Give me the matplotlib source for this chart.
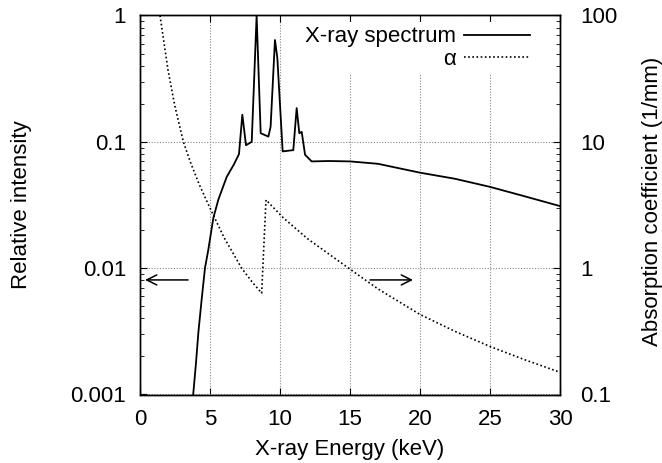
import numpy as np
import matplotlib
matplotlib.use("Agg")
import matplotlib.pyplot as plt

# X-ray spectrum (relative intensity, left axis)
spec_energy = [3.8, 4.0, 4.17, 4.4, 4.64, 4.88, 5.24, 5.6, 6.2, 6.7, 7.07, 7.31,
               7.57, 7.98, 8.33, 8.62, 9.17, 9.33, 9.64, 9.81, 10.19, 10.95,
               11.19, 11.38, 11.55, 11.79, 12.26, 13.5, 15.0, 17.0, 20.0, 22.5,
               25.0, 27.5, 30.0]
spec_intensity = [0.001, 0.00178, 0.0031, 0.0056, 0.01, 0.014, 0.025, 0.035,
                  0.053, 0.066, 0.080, 0.164, 0.094, 0.10, 1.0, 0.117, 0.110,
                  0.132, 0.64, 0.46, 0.084, 0.086, 0.185, 0.117, 0.12, 0.079,
                  0.070, 0.0705, 0.070, 0.067, 0.057, 0.051, 0.044, 0.037, 0.031]

# absorption coefficient (1/mm, right axis)
alpha_energy = [1.43, 2.0, 2.5, 3.1, 3.6, 4.24, 5.0, 6.0, 7.26, 8.0, 8.69, 9.0,
                10.24, 12.0, 14.9, 17.0, 20.0, 22.5, 25.0, 27.5, 30.0]
alpha_values = [100, 37, 19, 10, 6.9, 4.57, 2.99, 1.75, 1.0, 0.78, 0.634, 3.47,
                2.5, 1.7, 1.0, 0.685, 0.43, 0.316, 0.24, 0.188, 0.15]

x_ticks = [0, 5, 10, 15, 20, 25, 30]
left_ticks = [0.001, 0.01, 0.1, 1]
left_labels = ["0.001", "0.01", "0.1", "1"]
right_ticks = [0.1, 1, 10, 100]
right_labels = ["0.1", "1", "10", "100"]

# arrows pointing to each curve's axis: (tail x, head x), at y in left units
arrow_y = 0.00807
left_arrow = (3.43, 0.36)
right_arrow = (16.43, 19.5)

plt.rcParams["font.family"] = ["Liberation Sans", "DejaVu Sans"]
plt.rcParams["font.size"] = 16

fig = plt.figure(figsize=(6.62, 4.63), dpi=100)
ax = fig.add_axes([140 / 662, 1 - 394.5 / 463, 420 / 662, 379 / 463])
ax2 = ax.twinx()

ax.set_xlim(0, 30)
ax.set_yscale("log")
ax.set_ylim(0.001, 1)
ax2.set_yscale("log")
ax2.set_ylim(0.1, 100)

ax.set_xticks(x_ticks)
ax.set_yticks(left_ticks)
ax.set_yticklabels(left_labels)
ax2.set_yticks(right_ticks)
ax2.set_yticklabels(right_labels)

ax.grid(True, which="major", linestyle=(0, (1, 1.5)), color="#888888", linewidth=0.8)

ax.tick_params(axis="x", which="both", direction="in", top=True, length=5, pad=10.5)
ax.tick_params(axis="y", which="major", direction="in", length=5, pad=10)
ax.tick_params(axis="y", which="minor", direction="in", length=3)
ax2.tick_params(axis="y", which="major", direction="in", length=5, pad=14.5)
ax2.tick_params(axis="y", which="minor", direction="in", length=3)
for a in (ax, ax2):
    for s in a.spines.values():
        s.set_linewidth(1.0)

l1, = ax.plot(spec_energy, spec_intensity, color="black", linewidth=1.3,
              label="X-ray spectrum")
l2, = ax2.plot(alpha_energy, alpha_values, color="black", linewidth=1.2,
               linestyle=(0, (1, 1.5)), label="\u03b1")

ax.annotate("", xy=(left_arrow[1], arrow_y), xytext=(left_arrow[0], arrow_y),
            arrowprops=dict(arrowstyle="->", lw=1.1, color="black",
                            mutation_scale=18, shrinkA=0, shrinkB=0))
ax.annotate("", xy=(right_arrow[1], arrow_y), xytext=(right_arrow[0], arrow_y),
            arrowprops=dict(arrowstyle="->", lw=1.1, color="black",
                            mutation_scale=18, shrinkA=0, shrinkB=0))

ax.set_xlabel("X-ray Energy (keV)")
ax.xaxis.set_label_coords(0.5, -0.117)
ax.set_ylabel("Relative intensity")
ax.yaxis.set_label_coords(-0.257, 0.5)
ax2.set_ylabel("Absorption coefficient (1/mm)")
ax2.yaxis.set_label_coords(1.195, 0.509)

# key box sits just below the top ticks so the frame does not hide them
leg = ax2.legend([l1, l2], ["X-ray spectrum", "\u03b1"], loc="upper right",
                 bbox_to_anchor=(0.94, 0.983), borderaxespad=0.0, borderpad=0.2,
                 markerfirst=False, handlelength=3.0, handletextpad=0.35,
                 labelspacing=0.07, fancybox=False, framealpha=1.0)
leg.get_frame().set_edgecolor("white")
leg.get_frame().set_linewidth(0)

fig.savefig("out.png", dpi=100)
